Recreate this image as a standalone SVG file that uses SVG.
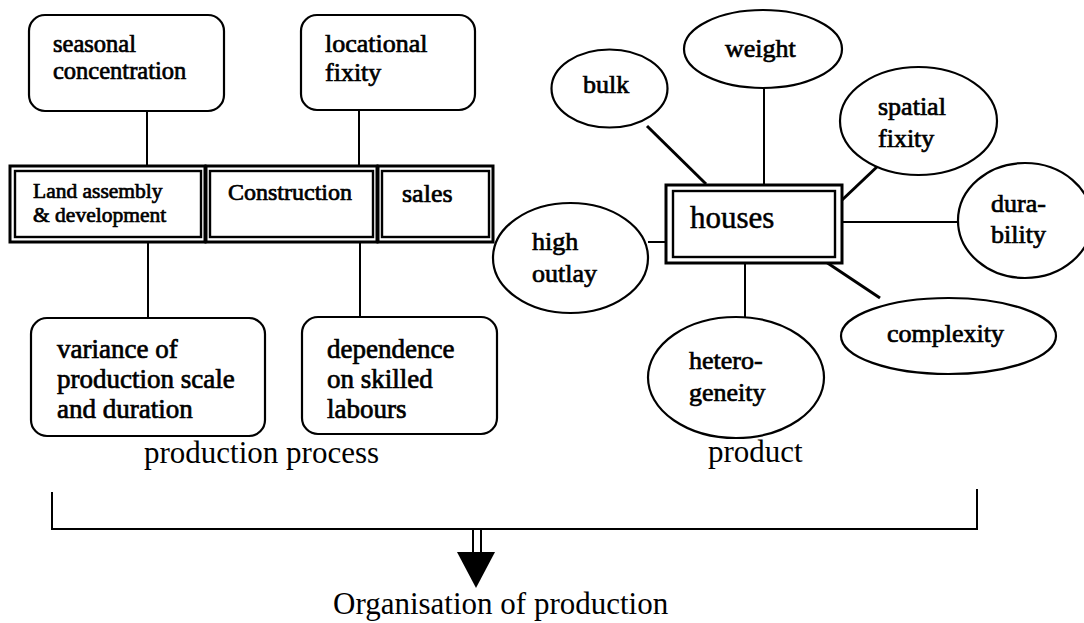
<svg xmlns="http://www.w3.org/2000/svg" width="1084" height="623" viewBox="0 0 1084 623">
  <style>
    .bg { fill: #ffffff; }
    .rbox { fill: #ffffff; stroke: #000000; stroke-width: 2.2; }
    .oval { fill: #ffffff; stroke: #000000; stroke-width: 2.2; }
    .outer { fill: #ffffff; stroke: #000000; stroke-width: 3; }
    .inner { fill: none; stroke: #000000; stroke-width: 2.4; }
    .link { stroke: #000000; stroke-width: 2; fill: none; }
    .slant { stroke: #000000; stroke-width: 3; fill: none; }
    .words { font-family: "Liberation Serif", "Times New Roman", serif; font-size: 26px; fill: #000000; stroke: #000000; stroke-width: 0.7px; }
    .caption { font-family: "Liberation Serif", "Times New Roman", serif; font-size: 31px; fill: #000000; }
  </style>
  <rect class="bg" x="0" y="0" width="1084" height="623"/>

  <!-- connectors -->
  <g id="connectors">
    <line class="link" x1="147" y1="111" x2="147" y2="166"/>
    <line class="link" x1="359" y1="110" x2="359" y2="166"/>
    <line class="link" x1="148" y1="242" x2="148" y2="318"/>
    <line class="link" x1="360" y1="242" x2="360" y2="317"/>
    <line class="slant" x1="647" y1="126" x2="706" y2="184"/>
    <line class="link" x1="764" y1="88" x2="764" y2="184"/>
    <line class="slant" x1="880" y1="164" x2="841" y2="201"/>
    <line class="link" x1="842" y1="222" x2="958" y2="222"/>
    <line class="link" x1="648" y1="242" x2="666" y2="242"/>
    <line class="link" x1="745" y1="263" x2="745" y2="317"/>
    <line class="slant" x1="826" y1="262" x2="880" y2="298"/>
    <!-- bracket gathering both groups -->
    <polyline class="link" points="52,492 52,529 977,529 977,489"/>
    <!-- double-shaft arrow -->
    <line class="link" x1="473" y1="529" x2="473" y2="553"/>
    <line class="link" x1="481" y1="529" x2="481" y2="553"/>
    <polygon points="457,552 495,552 476,588" fill="#000000"/>
  </g>

  <!-- production process: attributes -->
  <g id="seasonal">
    <rect class="rbox" x="29" y="15" width="195" height="96" rx="16"/>
    <g class="words" style="font-size:24.5px">
      <text x="53" y="52">seasonal</text>
      <text x="53" y="79">concentration</text>
    </g>
  </g>
  <g id="locational">
    <rect class="rbox" x="301" y="15" width="174" height="95" rx="16"/>
    <g class="words">
      <text x="325" y="52">locational</text>
      <text x="325" y="81">fixity</text>
    </g>
  </g>

  <!-- production stages -->
  <g id="land">
    <rect class="outer" x="10" y="166" width="195" height="76"/>
    <rect class="inner" x="15" y="171" width="186" height="66"/>
    <g class="words" style="font-size:21.5px">
      <text x="33" y="198">Land assembly</text>
      <text x="33" y="222">&amp; development</text>
    </g>
  </g>
  <g id="construction">
    <rect class="outer" x="206" y="166" width="171" height="76"/>
    <rect class="inner" x="210" y="171" width="163" height="66"/>
    <g class="words" style="font-size:24px">
      <text x="228" y="200">Construction</text>
    </g>
  </g>
  <g id="sales">
    <rect class="outer" x="378" y="166" width="115" height="76"/>
    <rect class="inner" x="382" y="171" width="107" height="66"/>
    <g class="words">
      <text x="402" y="202">sales</text>
    </g>
  </g>

  <g id="variance">
    <rect class="rbox" x="31" y="318" width="234" height="118" rx="16"/>
    <g class="words" style="font-size:27px">
      <text x="57" y="358">variance of</text>
      <text x="57" y="388">production scale</text>
      <text x="57" y="418">and duration</text>
    </g>
  </g>
  <g id="dependence">
    <rect class="rbox" x="302" y="317" width="195" height="117" rx="16"/>
    <g class="words" style="font-size:27px">
      <text x="327" y="358">dependence</text>
      <text x="327" y="388">on skilled</text>
      <text x="327" y="418">labours</text>
    </g>
  </g>

  <!-- product: houses and its properties -->
  <g id="houses">
    <rect class="outer" x="666" y="185" width="176" height="78"/>
    <rect class="inner" x="673" y="191" width="162" height="66"/>
    <g class="words" style="font-size:31px;stroke-width:0.5px">
      <text x="690" y="228">houses</text>
    </g>
  </g>
  <g id="bulk">
    <ellipse class="oval" cx="609.5" cy="88.5" rx="58" ry="39"/>
    <g class="words"><text x="583" y="93">bulk</text></g>
  </g>
  <g id="weight">
    <ellipse class="oval" cx="763" cy="49" rx="79" ry="39"/>
    <g class="words"><text x="725" y="57">weight</text></g>
  </g>
  <g id="spatial">
    <ellipse class="oval" cx="918.5" cy="121" rx="78.5" ry="54"/>
    <g class="words">
      <text x="878" y="115">spatial</text>
      <text x="878" y="147">fixity</text>
    </g>
  </g>
  <g id="durability">
    <ellipse class="oval" cx="1025" cy="220.5" rx="67" ry="57.5"/>
    <g class="words">
      <text x="991" y="212">dura-</text>
      <text x="991" y="243">bility</text>
    </g>
  </g>
  <g id="outlay">
    <ellipse class="oval" cx="570.5" cy="258" rx="77.5" ry="55"/>
    <g class="words">
      <text x="532" y="250">high</text>
      <text x="532" y="282">outlay</text>
    </g>
  </g>
  <g id="heterogeneity">
    <ellipse class="oval" cx="736" cy="377.5" rx="88" ry="60.5"/>
    <g class="words">
      <text x="689" y="369">hetero-</text>
      <text x="689" y="401">geneity</text>
    </g>
  </g>
  <g id="complexity">
    <ellipse class="oval" cx="948.5" cy="336" rx="107.5" ry="38"/>
    <g class="words"><text x="887" y="342">complexity</text></g>
  </g>

  <!-- group captions -->
  <g id="captions">
    <text class="caption" x="144" y="463">production process</text>
    <text class="caption" x="708" y="462">product</text>
    <text class="caption" x="333" y="614">Organisation of production</text>
  </g>
</svg>
